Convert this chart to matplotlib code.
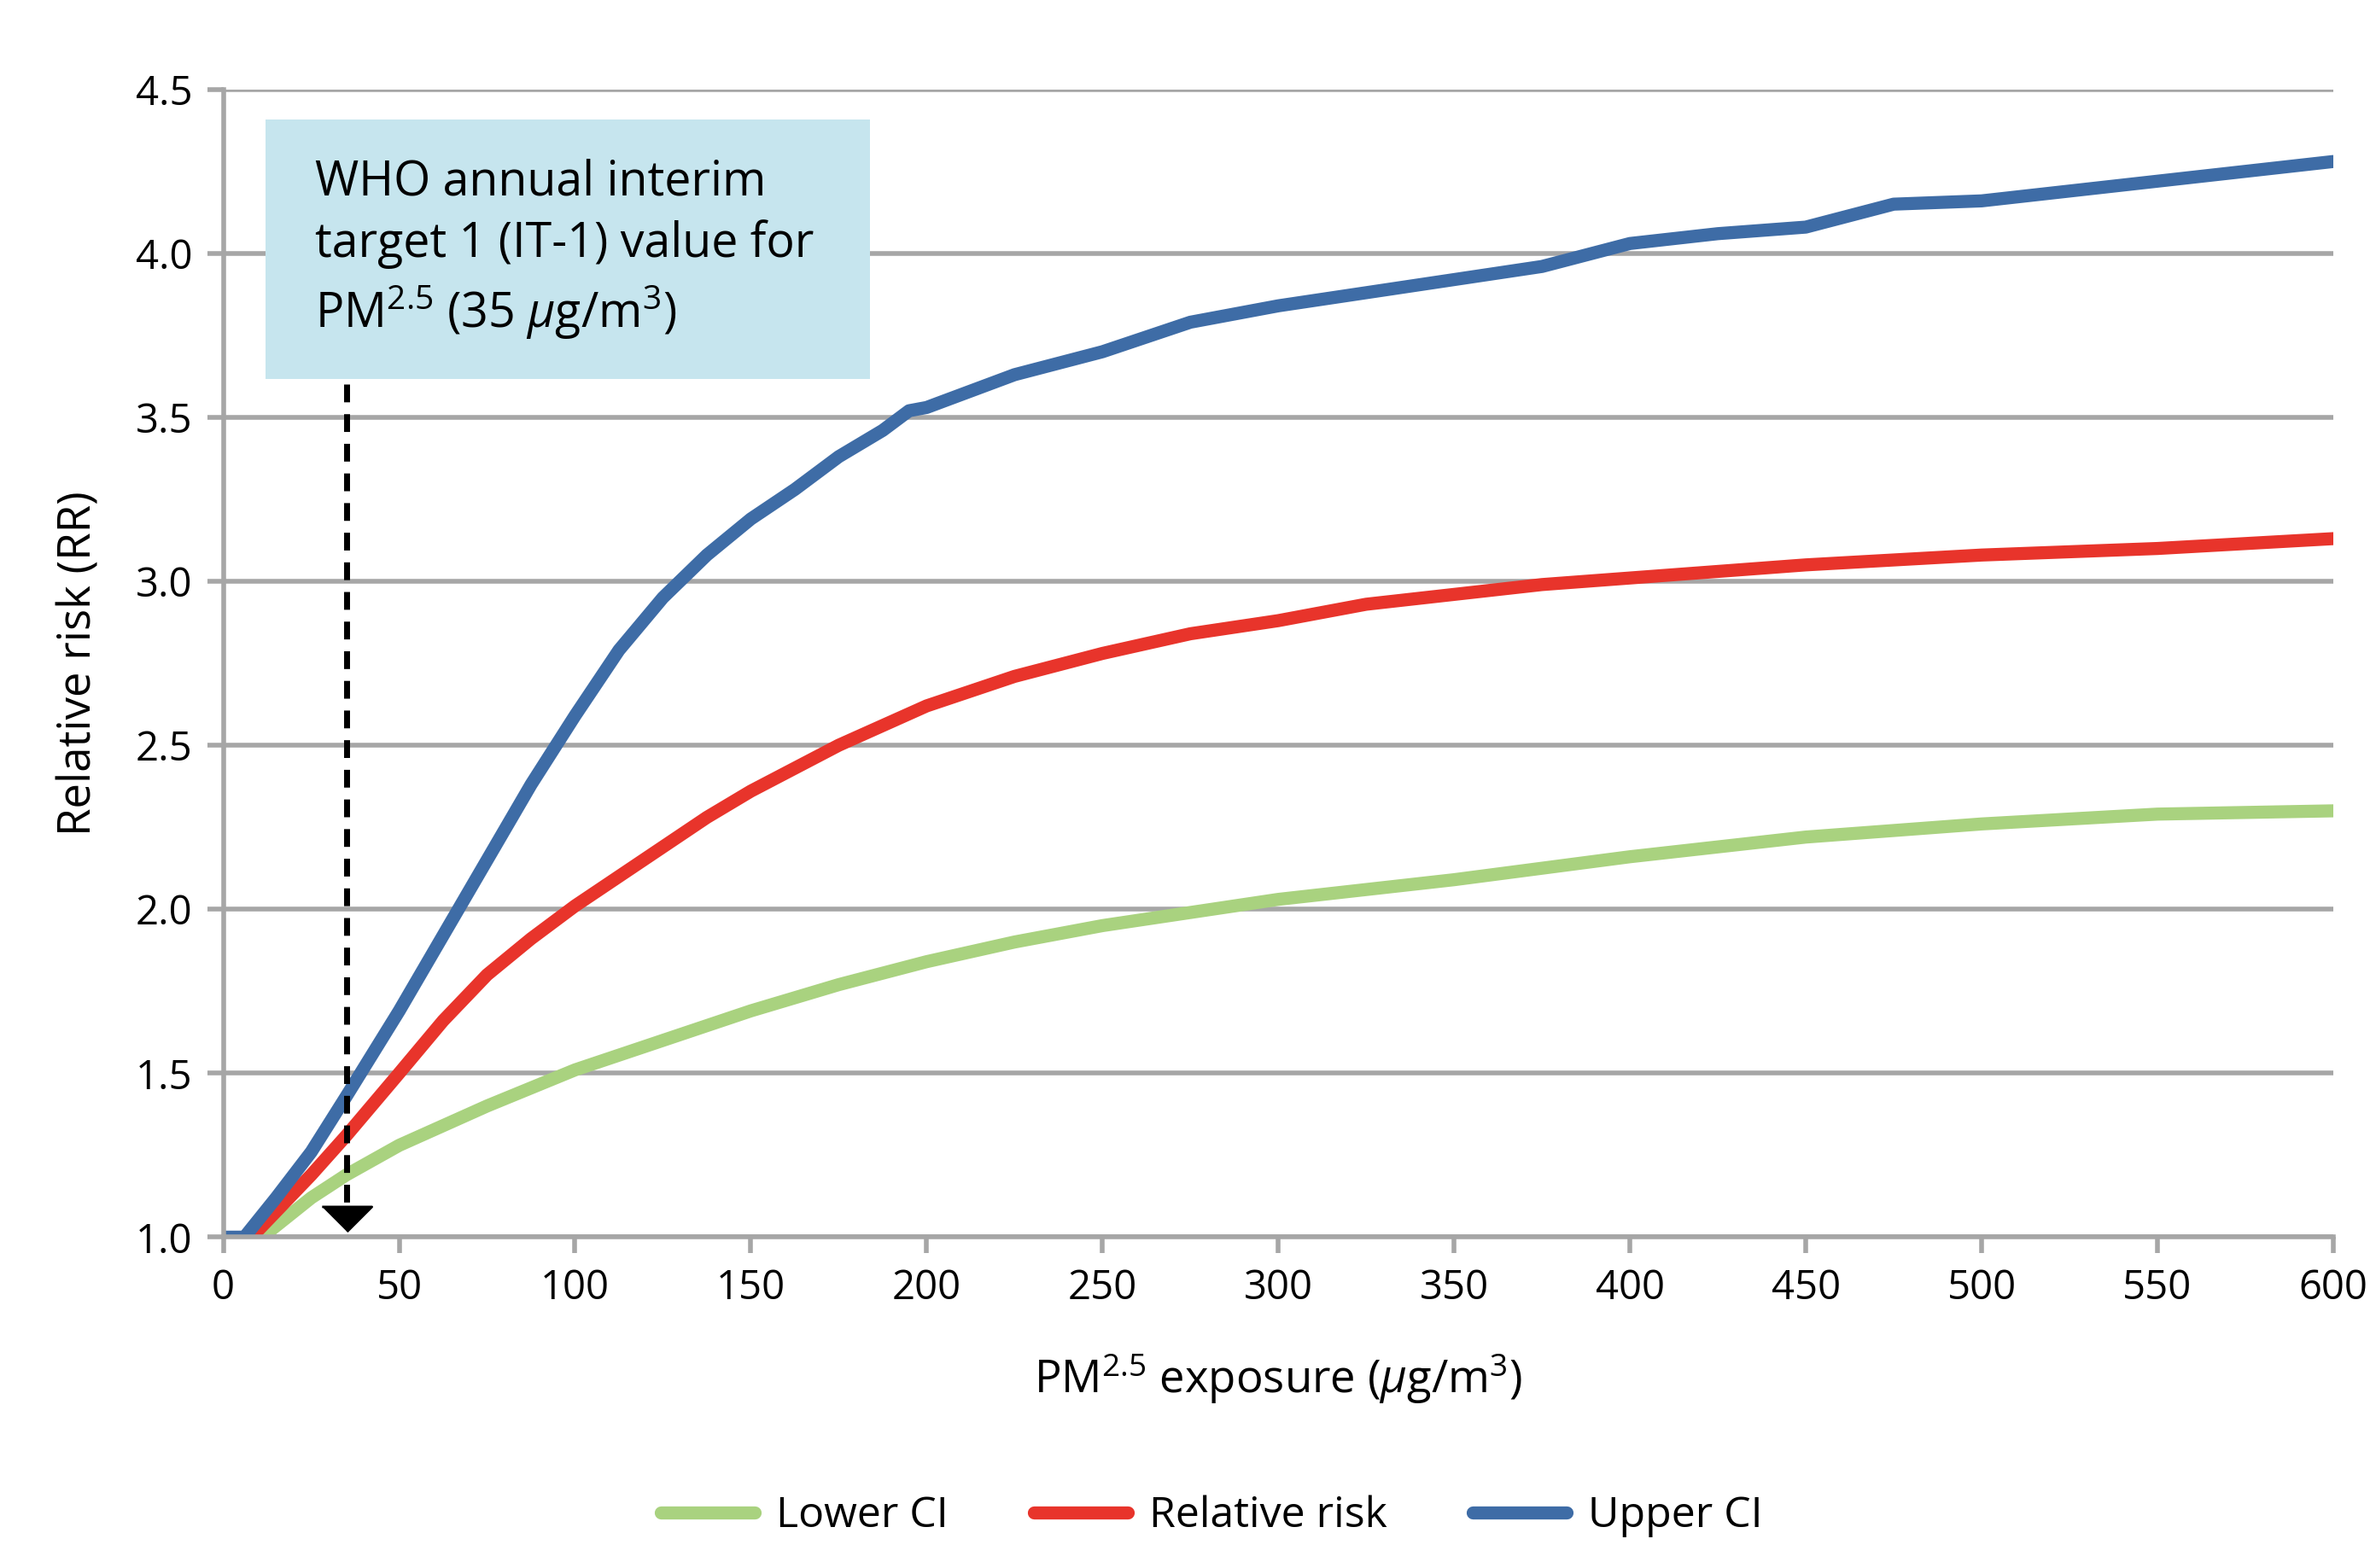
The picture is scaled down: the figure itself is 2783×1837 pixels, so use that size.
import matplotlib
matplotlib.use("Agg")
import matplotlib.pyplot as plt

plt.rcParams['font.family'] = ['Open Sans', 'DejaVu Sans']
plt.rcParams['mathtext.fontset'] = 'custom'
plt.rcParams['mathtext.rm'] = 'Open Sans'
plt.rcParams['mathtext.it'] = 'Open Sans:italic'

# values
upper_x = [0, 6, 15, 25, 35, 50, 62.5, 75, 87.5, 100, 112.5, 125, 137.5, 150, 162.5,
           175, 187.5, 195, 200, 225, 250, 275, 300, 325, 350, 375, 400, 425, 450,
           475, 500, 525, 550, 575, 600]
upper_y = [1.0, 1.0, 1.12, 1.26, 1.43, 1.69, 1.92, 2.15, 2.38, 2.59, 2.79, 2.95, 3.08,
           3.19, 3.28, 3.38, 3.46, 3.52, 3.53, 3.63, 3.70, 3.79, 3.84, 3.88, 3.92,
           3.96, 4.03, 4.06, 4.08, 4.15, 4.16, 4.19, 4.22, 4.25, 4.28]

rr_x = [8, 25, 35, 50, 62.5, 75, 87.5, 100, 112.5, 125, 137.5, 150, 162.5, 175,
        187.5, 200, 225, 250, 275, 300, 325, 350, 375, 400, 450, 500, 550, 600]
rr_y = [1.0, 1.19, 1.31, 1.50, 1.66, 1.80, 1.91, 2.01, 2.10, 2.19, 2.28, 2.36, 2.43,
        2.50, 2.56, 2.62, 2.71, 2.78, 2.84, 2.88, 2.93, 2.96, 2.99, 3.01, 3.05, 3.08,
        3.10, 3.13]

lower_x = [11, 25, 35, 50, 75, 100, 125, 150, 175, 200, 225, 250, 275, 300, 350, 400,
           450, 500, 550, 600]
lower_y = [1.0, 1.12, 1.19, 1.28, 1.40, 1.51, 1.60, 1.69, 1.77, 1.84, 1.90, 1.95, 1.99,
           2.03, 2.09, 2.16, 2.22, 2.26, 2.29, 2.30]

xticks = list(range(0, 601, 50))
yticks = [1.0, 1.5, 2.0, 2.5, 3.0, 3.5, 4.0, 4.5]
who_it1 = 35

fig = plt.figure(figsize=(13.915, 9.185), dpi=200)
ax = fig.add_axes([0.094, 0.211, 0.888, 0.732])

grey = '#a6a6a6'
ax.plot(lower_x, lower_y, color='#a9d27f', lw=5.5, label='Lower CI', solid_capstyle='round')
ax.plot(rr_x, rr_y, color='#e8342b', lw=5.5, label='Relative risk', solid_capstyle='round')
ax.plot(upper_x, upper_y, color='#3e6ca6', lw=5.5, label='Upper CI', solid_capstyle='round')

ax.set_xlim(0, 600)
ax.set_ylim(1.0, 4.5)
ax.set_xticks(xticks)
ax.set_yticks(yticks)
ax.set_yticklabels([f'{v:.1f}' for v in yticks])
ax.yaxis.grid(True, color=grey, lw=2)
ax.set_axisbelow(True)
for s in ['top', 'right']:
    ax.spines[s].set_visible(False)
for s in ['left', 'bottom']:
    ax.spines[s].set_color(grey)
    ax.spines[s].set_linewidth(2)
ax.tick_params(axis='both', color=grey, width=2, length=7, labelsize=17, pad=6)

ax.set_ylabel('Relative risk (RR)', fontsize=19, labelpad=14)
ax.set_xlabel(r'PM$^{2.5}$ exposure ($\mathit{\mu}$g/m$^3$)', fontsize=19, labelpad=18)

# annotation box + dashed arrow
ax.add_patch(plt.Rectangle((12, 3.617), 172, 0.79, facecolor='#c6e5ee',
                           edgecolor='none', zorder=3))
ax.text(26, 4.29, 'WHO annual interim\ntarget 1 (IT-1) value for\n'
        r'PM$^{2.5}$ (35 $\mathit{\mu}$g/m$^3$)',
        fontsize=20, va='top', ha='left', linespacing=1.33, zorder=4)
ax.plot([who_it1, who_it1], [3.6, 1.09], color='black', lw=2.5,
        linestyle=(0, (3, 2)), zorder=5)
ax.plot([who_it1], [1.055], marker=[(-1, 0.5), (1, 0.5), (0, -0.5)], color='black',
        markersize=21, zorder=5)

fig.legend(loc='center', bbox_to_anchor=(0.51, 0.033), ncol=3, frameon=False,
           fontsize=18, handlelength=2.2, columnspacing=2.0, handletextpad=0.5)

fig.savefig('out.png', dpi=200)
